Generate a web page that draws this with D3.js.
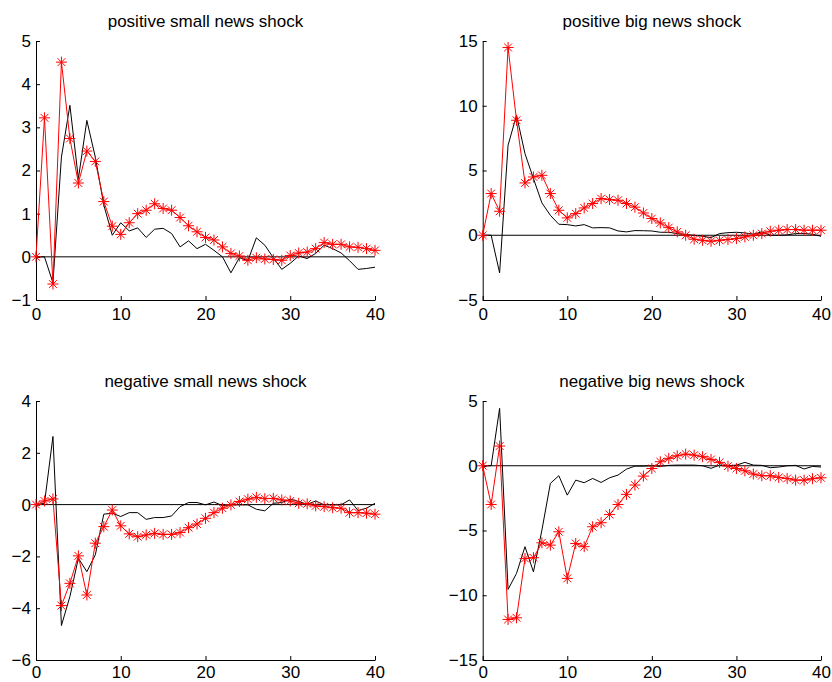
<!DOCTYPE html>
<html>
<head>
<meta charset="utf-8">
<script src="https://cdn.jsdelivr.net/npm/d3@7/dist/d3.min.js"></script>
<style>
  html, body { margin: 0; padding: 0; background: #fff; }
  svg { display: block; }
  text { font-family: "Liberation Sans", Arial, Helvetica, sans-serif; }
</style>
</head>
<body>
<svg id="chart" width="832" height="682"></svg>
<script>
// Horizon (periods after the shock)
const horizon = [0,1,2,3,4,5,6,7,8,9,10,11,12,13,14,15,16,17,18,19,20,
                 21,22,23,24,25,26,27,28,29,30,31,32,33,34,35,36,37,38,39,40];

const xTicks = [0, 10, 20, 30, 40];

// Panel titles
const titles = [
  "positive small news shock",
  "positive big news shock",
  "negative small news shock",
  "negative big news shock"
];

// Y-axis domains and tick labels for each panel
const yDomains = [[-1, 5], [-5, 15], [-6, 4], [-15, 5]];
const yTicks = [
  [-1, 0, 1, 2, 3, 4, 5],
  [-5, 0, 5, 10, 15],
  [-6, -4, -2, 0, 2, 4],
  [-15, -10, -5, 0, 5]
];

// Black solid responses
const posSmallLine = [0, 0, -0.6, 2.31, 3.51, 1.81, 3.16, 2.31, 1.2, 0.5, 0.79, 0.6, 0.67, 0.45, 0.64, 0.66, 0.54, 0.23, 0.37, 0.19,
  0.29, 0.15, 0, -0.37, -0.02, -0.09, 0.44, 0.27, -0.02, -0.29, -0.15, 0.02, -0.04, 0.08, 0.27, 0.19, 0.09, -0.09, -0.29, -0.27, -0.24];
const posBigLine = [0, 0, -2.9, 6.95, 9.27, 6.3, 4.38, 2.5, 1.54, 0.85, 0.82, 0.72, 0.82, 0.57, 0.59, 0.57, 0.33, 0.26, 0.36, 0.35,
  0.33, 0.23, 0.23, 0.13, 0.05, 0, -0.08, -0.18, 0.13, 0.2, 0.23, 0.18, 0.08, 0.26, 0, 0, 0.03, 0.13, 0.13, 0.08, -0.08];
const negSmallLine = [0, 0.05, 2.63, -4.67, -3.55, -2.07, -2.59, -1.94, -0.37, -0.33, -0.46, -0.31, -0.31, -0.57, -0.5, -0.5, -0.44, -0.08, 0.08, 0.08,
  -0.01, 0.1, -0.04, -0.01, -0.01, -0.01, -0.18, -0.24, 0.05, 0.08, 0.21, 0.12, 0.01, 0.14, -0.01, -0.01, -0.01, 0.18, -0.23, -0.14, 0.05];
const negBigLine = [0, 0, 4.43, -9.55, -8.31, -6.25, -8.19, -4.97, -1.36, -0.77, -2.27, -1.11, -1.31, -0.98, -1.29, -0.93, -0.72, -0.26, -0.03, -0.03,
  0, -0.05, 0.03, 0.05, 0.05, 0.05, 0, -0.2, 0.05, 0, 0.05, 0.26, 0.05, 0.03, -0.15, -0.1, 0, 0.03, -0.25, -0.05, -0.1];

// Red starred responses
const posSmallStar = [0, 3.22, -0.63, 4.51, 2.74, 1.71, 2.45, 2.21, 1.28, 0.71, 0.52, 0.79, 1.0, 1.08, 1.23, 1.12, 1.08, 0.91, 0.72, 0.58,
  0.45, 0.39, 0.23, 0.08, 0.02, -0.08, -0.02, -0.05, -0.06, -0.08, 0.03, 0.09, 0.11, 0.19, 0.33, 0.29, 0.29, 0.23, 0.22, 0.19, 0.15];
const posBigStar = [0, 3.22, 1.85, 14.5, 8.88, 4.04, 4.5, 4.63, 3.22, 1.93, 1.34, 1.67, 2.11, 2.45, 2.83, 2.75, 2.7, 2.45, 2.17, 1.72,
  1.29, 0.95, 0.59, 0.26, 0, -0.31, -0.39, -0.46, -0.39, -0.33, -0.26, -0.13, 0, 0.13, 0.31, 0.39, 0.44, 0.44, 0.39, 0.39, 0.39];
const negSmallStar = [0, 0.14, 0.22, -3.9, -3.04, -1.98, -3.49, -1.49, -0.85, -0.21, -0.82, -1.13, -1.24, -1.17, -1.11, -1.15, -1.15, -1.08, -0.89, -0.75,
  -0.53, -0.31, -0.14, -0.01, 0.12, 0.21, 0.28, 0.23, 0.24, 0.18, 0.14, 0.05, 0.03, -0.05, -0.08, -0.12, -0.14, -0.31, -0.31, -0.33, -0.37];
const negBigStar = [0, -2.99, 1.52, -11.87, -11.74, -7.16, -7.1, -5.95, -6.13, -5.1, -8.7, -6.0, -6.25, -4.71, -4.4, -3.76, -2.99, -2.21, -1.49, -0.8,
  -0.21, 0.31, 0.57, 0.77, 0.9, 0.82, 0.7, 0.49, 0.26, -0.03, -0.21, -0.39, -0.64, -0.77, -0.77, -0.9, -0.98, -1.11, -1.11, -1.0, -0.93];

const lineSeries = [posSmallLine, posBigLine, negSmallLine, negBigLine];
const starSeries = [posSmallStar, posBigStar, negSmallStar, negBigStar];

// Plot-area boxes for the 2x2 grid
const boxes = [
  { left: 36,    right: 375, top: 41,  bottom: 300 },
  { left: 482.7, right: 821, top: 41,  bottom: 300 },
  { left: 36,    right: 375, top: 401, bottom: 660 },
  { left: 482.7, right: 821, top: 401, bottom: 660 }
];

const svg = d3.select("#chart");
const red = "#ff0000";
const fontSize = 17;

// Eight-armed asterisk marker
function asteriskPath(r) {
  const d = r * Math.SQRT1_2;
  return `M${-r},0H${r}M0,${-r}V${r}M${-d},${-d}L${d},${d}M${-d},${d}L${d},${-d}`;
}

boxes.forEach((b, i) => {
  const x = d3.scaleLinear().domain([0, 40]).range([b.left, b.right]);
  const y = d3.scaleLinear().domain(yDomains[i]).range([b.bottom, b.top]);
  const g = svg.append("g");

  // Title
  g.append("text")
    .attr("x", (b.left + b.right) / 2)
    .attr("y", b.top - 14)
    .attr("text-anchor", "middle")
    .attr("font-size", fontSize)
    .attr("fill", "#000")
    .text(titles[i]);

  // Axes with inward ticks
  const xAxis = d3.axisBottom(x).tickValues(xTicks).tickSizeInner(-4).tickSizeOuter(0)
    .tickPadding(b.bottom > 600 ? 6 : 8)
    .tickFormat(d3.format("d"));
  const yAxis = d3.axisLeft(y).tickValues(yTicks[i]).tickSizeInner(-4).tickSizeOuter(0).tickPadding(5)
    .tickFormat(d => d < 0 ? "\u2212" + Math.abs(d) : String(d));

  const gx = g.append("g").attr("transform", `translate(0,${b.bottom})`).call(xAxis);
  const gy = g.append("g").attr("transform", `translate(${b.left},0)`).call(yAxis);
  [gx, gy].forEach(a => {
    a.selectAll("text").attr("font-size", fontSize).attr("fill", "#000")
      .style("font-family", "'Liberation Sans', Arial, Helvetica, sans-serif");
    a.selectAll("line").attr("stroke", "#000");
    a.select(".domain").attr("stroke", "#000");
  });

  // Zero reference line
  g.append("line")
    .attr("x1", x(0)).attr("x2", x(40))
    .attr("y1", y(0)).attr("y2", y(0))
    .attr("stroke", "#000").attr("stroke-width", 1);

  const lineGen = d3.line().x((d, k) => x(horizon[k])).y(d => y(d));

  // Black response
  g.append("path")
    .datum(lineSeries[i])
    .attr("d", lineGen)
    .attr("fill", "none")
    .attr("stroke", "#000")
    .attr("stroke-width", 1);

  // Red starred response
  g.append("path")
    .datum(starSeries[i])
    .attr("d", lineGen)
    .attr("fill", "none")
    .attr("stroke", red)
    .attr("stroke-width", 1);

  g.append("g").selectAll("path")
    .data(starSeries[i])
    .join("path")
    .attr("transform", (d, k) => `translate(${x(horizon[k])},${y(d)})`)
    .attr("d", asteriskPath(5.5))
    .attr("fill", "none")
    .attr("stroke", red)
    .attr("stroke-width", 1);
});
</script>
</body>
</html>
